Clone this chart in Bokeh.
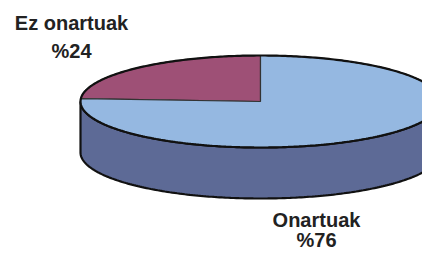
import numpy as np
from bokeh.plotting import figure
from bokeh.models import Range1d
from bokeh.core.properties import value
from bokeh.embed import file_html
from bokeh.resources import INLINE

# ---- data ----
categories = ["Ez onartuak", "Onartuak"]
shares = [24, 76]
pct_labels = ["%24", "%76"]
slice_colors = ["#9E5076", "#95B8E1"]
side_color = "#5D6A96"

# ---- layout (pixel-like coordinates, y downwards) ----
cx, cy, rx, ry, depth = 260.0, 101.0, 180.0, 46.0, 51.0

p = figure(width=422, height=254, output_backend="svg", toolbar_location=None,
           x_range=Range1d(0, 422), y_range=Range1d(254, 0), min_border=0)
p.axis.visible = False
p.grid.visible = False
p.outline_line_color = None
p.background_fill_color = "white"

def pt(theta):
    return cx + rx * np.cos(theta), cy - ry * np.sin(theta)

# side wall (front half)
th = np.linspace(np.pi, 2 * np.pi, 200)
xs, ys = pt(th)
side_x = np.concatenate([xs, xs[::-1]])
side_y = np.concatenate([ys, ys[::-1] + depth])
p.patch(side_x, side_y, fill_color=side_color, line_color="#111111", line_width=2.2)

# top slices: start at 90 deg, first slice counter-clockwise
total = float(sum(shares))
start = np.pi / 2
for share, col in zip(shares, slice_colors):
    span = 2 * np.pi * share / total
    t = np.linspace(start, start + span, 200)
    ex, ey = pt(t)
    px = np.concatenate([[cx], ex, [cx]])
    py = np.concatenate([[cy], ey, [cy]])
    p.patch(px, py, fill_color=col, line_color="#333333", line_width=1.2)
    start += span

# thick outline of top ellipse
t = np.linspace(0, 2 * np.pi, 400)
ox, oy = pt(t)
p.line(ox, oy, line_color="#111111", line_width=2.2)

# labels
label_x = [71, 316]
name_y = [22.5, 219]
pct_y = [50, 239]
p.text(x=label_x, y=name_y, text=categories, text_font=value("Liberation Sans"),
       text_font_style="bold", text_font_size="20px", text_align="center",
       text_baseline="alphabetic", text_color="#222222")
p.text(x=label_x, y=pct_y, text=pct_labels, text_font=value("Liberation Sans"),
       text_font_style="bold", text_font_size="20px", text_align="center",
       text_baseline="alphabetic", text_color="#222222")

open("out.html", "w").write(file_html(p, INLINE))
